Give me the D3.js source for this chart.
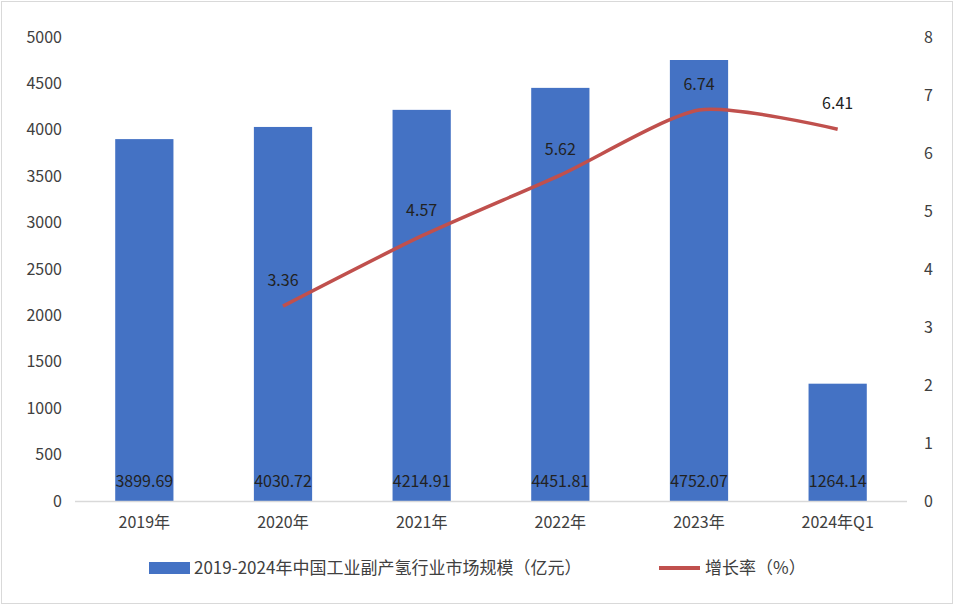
<!DOCTYPE html>
<html><head><meta charset="utf-8">
<script src="https://cdn.jsdelivr.net/npm/d3@7"></script>
<style>body{margin:0;background:#fff}text{font-family:"Noto Sans CJK SC","Noto Sans",sans-serif}</style>
</head><body><svg id="chart" width="954" height="605"></svg>
<script>
const categories = ["2019年","2020年","2021年","2022年","2023年","2024年Q1"];
const marketSize = [3899.69,4030.72,4214.91,4451.81,4752.07,1264.14];
const growthRate = [null,3.36,4.57,5.62,6.74,6.41];
const leftTicks = d3.range(0,5001,500);
const rightTicks = d3.range(0,9,1);

const svg = d3.select("#chart");
svg.append("rect").attr("x",1.5).attr("y",1.5).attr("width",951).attr("height",602)
  .attr("fill","#fff").attr("stroke","#d9d9d9");

const x = d3.scaleBand().domain(categories).range([75,907]).paddingInner(0.58).paddingOuter(0.29);
const yL = d3.scaleLinear().domain([0,5000]).range([501,37]);
const yR = d3.scaleLinear().domain([0,8]).range([501,37]);

svg.append("g").attr("transform","translate(62,0)")
  .call(d3.axisLeft(yL).tickValues(leftTicks).tickFormat(d3.format("d")).tickSize(0).tickPadding(0))
  .call(g=>g.select(".domain").remove())
  .selectAll("text").attr("font-size",16).attr("fill","#404040").attr("font-family","Liberation Sans,sans-serif");
svg.append("g").attr("transform","translate(924,0)")
  .call(d3.axisRight(yR).tickValues(rightTicks).tickSize(0).tickPadding(0))
  .call(g=>g.select(".domain").remove())
  .selectAll("text").attr("font-size",16).attr("fill","#404040").attr("font-family","Liberation Sans,sans-serif");

svg.selectAll(".bar").data(marketSize).enter().append("rect")
  .attr("x",(d,i)=>x(categories[i])).attr("y",d=>yL(d))
  .attr("width",x.bandwidth()).attr("height",d=>501-yL(d)).attr("fill","#4472c4");

svg.append("line").attr("x1",75).attr("x2",907).attr("y1",501.5).attr("y2",501.5).attr("stroke","#d9d9d9").attr("stroke-width",1.5);

svg.append("g").attr("transform","translate(0,501)")
  .call(d3.axisBottom(x).tickSize(0).tickPadding(16))
  .call(g=>g.select(".domain").remove())
  .selectAll("text").attr("font-size",16).attr("fill","#404040");

svg.selectAll(".blab").data(marketSize).enter().append("text")
  .attr("x",(d,i)=>x(categories[i])+x.bandwidth()/2).attr("y",487)
  .attr("text-anchor","middle").attr("font-size",16).attr("fill","#222")
  .text(d=>d.toFixed(2));

const pts = growthRate.map((v,i)=>[x(categories[i])+x.bandwidth()/2,v]).filter(p=>p[1]!=null);
svg.append("path").datum(pts)
  .attr("d",d3.line().x(p=>p[0]).y(p=>yR(p[1])).curve(d3.curveCardinal.tension(0.3)))
  .attr("fill","none").attr("stroke","#c0504d").attr("stroke-width",3.5);
svg.selectAll(".llab").data(pts).enter().append("text")
  .attr("x",p=>p[0]).attr("y",p=>yR(p[1])-20).attr("text-anchor","middle")
  .attr("font-size",16).attr("fill","#222").attr("font-family","Liberation Sans,sans-serif")
  .text(p=>p[1].toFixed(2));

const lg = svg.append("g").attr("transform","translate(0,568)");
lg.append("rect").attr("x",149).attr("y",-6).attr("width",41).attr("height",12).attr("fill","#4472c4");
lg.append("text").attr("x",194).attr("y",6).attr("font-size",17).attr("fill","#404040").text("2019-2024年中国工业副产氢行业市场规模（亿元）");
lg.append("line").attr("x1",659).attr("x2",700).attr("y1",0).attr("y2",0).attr("stroke","#c0504d").attr("stroke-width",4);
lg.append("text").attr("x",705).attr("y",6).attr("font-size",17).attr("fill","#404040").text("增长率（%）");
</script></body></html>
